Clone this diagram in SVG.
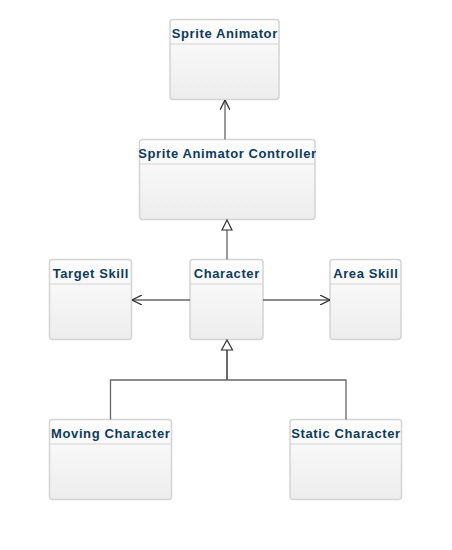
<svg xmlns="http://www.w3.org/2000/svg" width="452" height="550" viewBox="0 0 452 550">
<style>
.box{fill:url(#g);stroke:#d4d4d4;stroke-width:1.5}
.sep{stroke:#d4d4d4;stroke-width:1.2}
.t{font-family:"Liberation Sans",Arial,sans-serif;font-weight:bold;font-size:13px;fill:#0e3b5c;text-anchor:middle;letter-spacing:0.6px}
.c{fill:none;stroke:#666;stroke-width:1.3}
.inh{fill:none;stroke:#444;stroke-width:1.6}
</style>
<defs>
<linearGradient id="g" x1="0" y1="0" x2="0" y2="1">
<stop offset="0" stop-color="#fdfdfd"/>
<stop offset="1" stop-color="#ededed"/>
</linearGradient>
<marker id="open" viewBox="0 0 10 10" refX="10" refY="5" markerWidth="10" markerHeight="10" markerUnits="userSpaceOnUse" orient="auto">
<path d="M0,0 L10,5 L0,10" fill="none" stroke="#333" stroke-width="1.3"/>
</marker>
</defs>
<g id="sprite-animator">
<rect class="box" x="170" y="19.5" width="109" height="80" rx="3"/>
<line class="sep" x1="170" y1="44" x2="279" y2="44"/>
<text class="t" x="224.8" y="38">Sprite Animator</text>
</g>
<g id="sprite-animator-controller">
<rect class="box" x="139.5" y="139.5" width="175.5" height="80" rx="3"/>
<line class="sep" x1="139.5" y1="164" x2="315" y2="164"/>
<text class="t" x="227.5" y="158">Sprite Animator Controller</text>
</g>
<g id="target-skill">
<rect class="box" x="49.5" y="259.5" width="82" height="80" rx="3"/>
<line class="sep" x1="49.5" y1="284" x2="131.5" y2="284"/>
<text class="t" x="90.8" y="278">Target Skill</text>
</g>
<g id="character">
<rect class="box" x="190" y="259.5" width="73" height="80" rx="3"/>
<line class="sep" x1="190" y1="284" x2="263" y2="284"/>
<text class="t" x="226.8" y="278">Character</text>
</g>
<g id="area-skill">
<rect class="box" x="330" y="259.5" width="71" height="80" rx="3"/>
<line class="sep" x1="330" y1="284" x2="401" y2="284"/>
<text class="t" x="365.8" y="278">Area Skill</text>
</g>
<g id="moving-character">
<rect class="box" x="49.5" y="419.5" width="122" height="80" rx="3"/>
<line class="sep" x1="49.5" y1="444" x2="171.5" y2="444"/>
<text class="t" x="110.8" y="438">Moving Character</text>
</g>
<g id="static-character">
<rect class="box" x="290" y="419.5" width="111.5" height="80" rx="3"/>
<line class="sep" x1="290" y1="444" x2="401.5" y2="444"/>
<text class="t" x="346" y="438">Static Character</text>
</g>
<g id="connectors">
<line class="c" x1="225" y1="139.5" x2="225" y2="100" marker-end="url(#open)"/>
<line class="c" x1="227" y1="259.5" x2="227" y2="230"/>
<path d="M222,230 L232,230 L227,220 Z" fill="#fff" stroke="#333" stroke-width="1.2"/>
<line class="c" x1="190" y1="300" x2="132" y2="300" marker-end="url(#open)"/>
<line class="c" x1="263" y1="300" x2="330" y2="300" marker-end="url(#open)"/>
<line class="inh" x1="227" y1="350" x2="227" y2="380"/>
<path class="c" d="M110.5,419.5 L110.5,380 L346,380 L346,419.5"/>
<path d="M221.5,350 L232.5,350 L227,340 Z" fill="#fff" stroke="#333" stroke-width="1.2"/>
</g>
</svg>
